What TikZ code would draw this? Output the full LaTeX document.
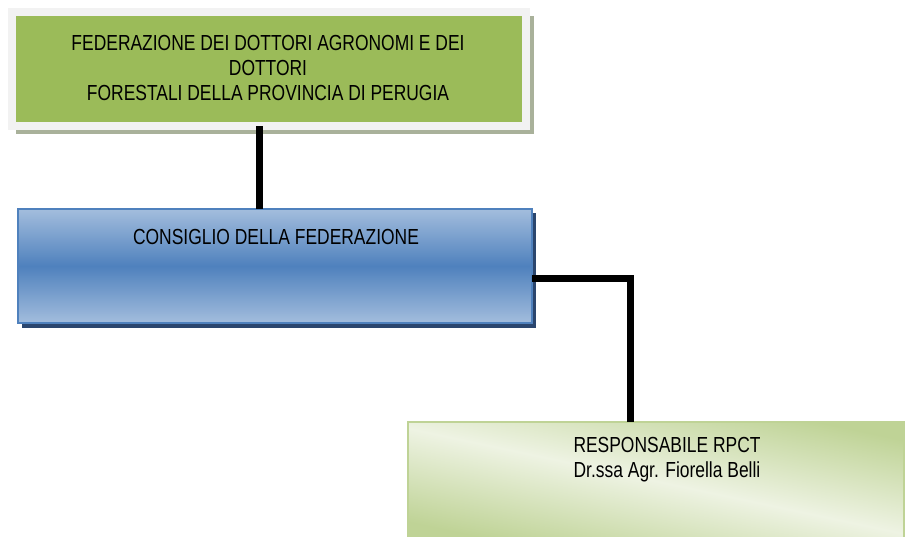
\documentclass[tikz,border=0pt]{standalone}
\usepackage{fontspec}
\setmainfont{Liberation Sans}[FakeStretch=0.80]
\usetikzlibrary{backgrounds}
\definecolor{agrogreen}{HTML}{9BBB59}
\definecolor{framewhite}{HTML}{F2F2F2}
\definecolor{framegrey}{HTML}{A9B19A}
\definecolor{cblue}{HTML}{4F81BD}
\definecolor{cbluelight}{HTML}{A3BDDD}
\definecolor{cnavy}{HTML}{2B466E}
\definecolor{rlight}{HTML}{EEF3E3}
\definecolor{rgreen}{HTML}{BFD396}
\tikzset{
  box/.style={rectangle, inner sep=0, outer sep=0},
  fedbox/.style={box, fill=agrogreen, draw=framewhite, line width=0.2cm,
    minimum width=12.85cm, minimum height=2.85cm},
  consbox/.style={box, draw=cblue, line width=0.05cm, top color=cbluelight,
    bottom color=cbluelight, middle color=cblue,
    minimum width=12.85cm, minimum height=2.85cm},
  rbox/.style={box, draw=rgreen, line width=0.05cm,
    top color=rgreen, bottom color=rgreen, middle color=rlight, shading angle=-12,
    minimum width=12.4cm, minimum height=2.95cm},
  txt/.style={align=center, inner sep=0, font=\fontsize{15.5}{17.8}\selectfont},
  conn/.style={line width=0.175cm, draw=black, line join=miter}
}
\begin{document}
\begin{tikzpicture}[x=0.025cm, y=-0.025cm]
    \useasboundingbox (0,0) rectangle (905,537);

    \node[fedbox](fed) at (269,69) {};
    \node[consbox](cons) at (275,266) {};
    \node[rbox](rpct) at (656,481) {};

    \node[txt](fedtxt) at (268,68)
      {FEDERAZIONE DEI DOTTORI AGRONOMI E DEI\\DOTTORI\\FORESTALI DELLA PROVINCIA DI PERUGIA};
    \node[txt](constxt) at (276,237) {CONSIGLIO DELLA FEDERAZIONE};
    \node[txt](rpcttxt) at (667,460) {RESPONSABILE RPCT\\Dr.ssa Agr. Fiorella Belli};

    % shadows
    \begin{scope}[on background layer]
      \fill[framegrey] ([shift={(0.1cm,-0.1cm)}]fed.north west) rectangle ([shift={(0.2cm,-0.2cm)}]fed.south east);
      \fill[cnavy] ([shift={(0.1cm,-0.1cm)}]cons.north west) rectangle ([shift={(0.1cm,-0.12cm)}]cons.south east);
    \end{scope}

    \draw[conn] ([xshift=-0.25cm]fed.south) -- ([xshift=-0.25cm]fed.south |- cons.north);
    \draw[conn] ([yshift=-0.3cm]cons.east) -| ([xshift=-0.65cm]rpct.north);
\end{tikzpicture}
\end{document}
